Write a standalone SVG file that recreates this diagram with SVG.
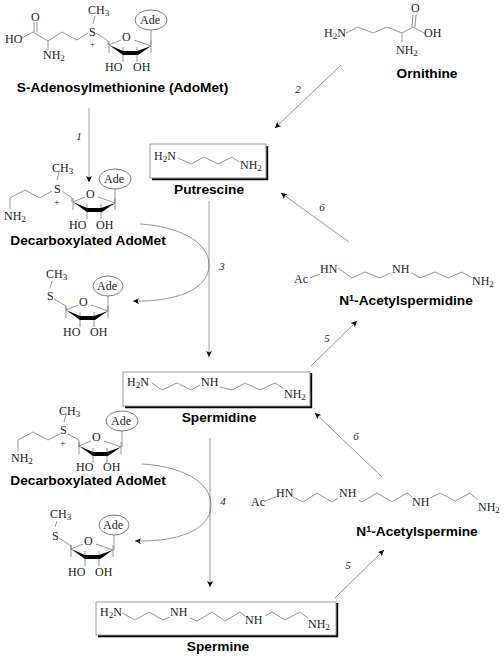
<svg xmlns="http://www.w3.org/2000/svg" xmlns:xlink="http://www.w3.org/1999/xlink" width="504" height="666" viewBox="0 0 504 666">
<style>
text{font-family:"Liberation Serif","Times New Roman",serif;font-size:12px;fill:#222}
.n{font-family:"Liberation Sans",Arial,sans-serif;font-weight:bold;font-size:13.7px;fill:#000;text-anchor:middle}
.l{font-style:italic;font-size:11px;text-anchor:middle}
.b{fill:none;stroke:#666;stroke-width:.7}
.c{fill:none;stroke:#666;stroke-width:.7}
.g{fill:none;stroke:#aaa;stroke-width:1.1}
.e{fill:#fff;stroke:#444;stroke-width:.7}
.x{fill:#fff;stroke:#999;stroke-width:1}
.s{fill:none;stroke:#000;stroke-width:2.4}
.u{font-size:9px}
.p{font-size:10px}
</style>
<defs>
<marker id="a" markerUnits="userSpaceOnUse" markerWidth="8" markerHeight="8" refX="6" refY="3" orient="auto"><path d="M0 0L6 3L0 6L1.500 3Z" fill="#000"/></marker>
<g id="ring">
<path class="b" d="M0 0L12 -5M25 -5L42 1M0 -4V8M42 -4V8M14 2V17M28 2V17"/>
<path d="M0 0L14 6H28L42 1L29 10H14Z" fill="#000"/>
</g>
</defs>
<g id="connectors">
<path class="g" d="M89 108V182" marker-end="url(#a)"/>
<path class="c" d="M341 65L275 128" marker-end="url(#a)"/>
<path class="c" d="M349 242L281 193" marker-end="url(#a)"/>
<path class="g" d="M209 201V357" marker-end="url(#a)"/>
<path class="c" d="M140 224C175 226 209 240 209 265C209 290 175 302 133 301" marker-end="url(#a)"/>
<path class="c" d="M311 366L357 321" marker-end="url(#a)"/>
<path class="c" d="M382 477L315 413" marker-end="url(#a)"/>
<path class="c" d="M210 438V587" marker-end="url(#a)"/>
<path class="c" d="M142 464C178 466 211 480 211 505C211 530 178 542 135 541" marker-end="url(#a)"/>
<path class="c" d="M335 598L384 550" marker-end="url(#a)"/>
<text class="l" x="79" y="140">1</text>
<text class="l" x="298" y="93">2</text>
<text class="l" x="222" y="270">3</text>
<text class="l" x="223" y="505">4</text>
<text class="l" x="327" y="342">5</text>
<text class="l" x="348" y="569">5</text>
<text class="l" x="322" y="211">6</text>
<text class="l" x="356" y="440">6</text>
</g>
<g id="adomet">
<path class="b" d="M22 38L33 32L48 41L62 32L77 40L88 33M96 33L108 41V45M34 32V22M37 32V22M48 41V50M93 24L95 16"/>
<use xlink:href="#ring" href="#ring" x="109" y="45"/>
<path class="b" d="M151 30V45"/>
<ellipse class="e" cx="151" cy="20" rx="16" ry="10"/>
<text x="5" y="43">HO</text><text x="31" y="21">O</text>
<text x="43" y="59">NH<tspan class="u" dy="2">2</tspan></text>
<text x="88" y="14">CH<tspan class="u" dy="2">3</tspan></text>
<text x="89" y="36">S</text><text x="90" y="47" class="u">+</text>
<text x="122" y="41">O</text><text x="105" y="71">HO</text><text x="133" y="71">OH</text>
<text x="140" y="24">Ade</text>
<text class="n" x="122.500" y="92">S-Adenosylmethionine (AdoMet)</text>
</g>
<g id="ornithine">
<path class="b" d="M346 33L358 27L373 33L387 27L402 33L413 27L424 33M412 27L413 15M415 27L416 15M402 33V42"/>
<text x="324" y="37">H<tspan class="u" dy="2">2</tspan><tspan dy="-2">N</tspan></text>
<text x="411" y="12">O</text><text x="424" y="37">OH</text>
<text x="396" y="54">NH<tspan class="u" dy="2">2</tspan></text>
<text class="n" x="427" y="78">Ornithine</text>
</g>
<g id="putrescine">
<path class="s" d="M152 179H267V146"/>
<rect class="x" x="150" y="144" width="116" height="34"/>
<path class="b" d="M178 158L191 164L204 157L218 164L232 157L239 162"/>
<text x="154" y="160">H<tspan class="u" dy="2">2</tspan><tspan dy="-2">N</tspan></text>
<text x="240" y="169">NH<tspan class="u" dy="2">2</tspan></text>
<text class="n" x="209" y="194">Putrescine</text>
</g>
<g id="decarboxy1">
<path class="b" d="M10 209V198L25 190L40 198L52 191M62 191L72 198V202M57 180L59 172"/>
<use xlink:href="#ring" href="#ring" x="73" y="202"/>
<path class="b" d="M115 189V203"/>
<ellipse class="e" cx="115" cy="179" rx="16" ry="10"/>
<text x="52" y="172">CH<tspan class="u" dy="2">3</tspan></text>
<text x="54" y="193">S</text><text class="p" x="54" y="206">+</text>
<text x="4" y="220">NH<tspan class="u" dy="2">2</tspan></text>
<text x="86" y="198">O</text><text x="69" y="229">HO</text><text x="96" y="229">OH</text>
<text x="104" y="183">Ade</text>
<text class="n" x="88" y="245">Decarboxylated AdoMet</text>
</g>
<g id="mta1">
<path class="b" d="M52 281L50 288M54 299L66 306V310"/>
<use xlink:href="#ring" href="#ring" x="66" y="310"/>
<path class="b" d="M108 296V311"/>
<ellipse class="e" cx="108" cy="286" rx="15" ry="10"/>
<text x="46" y="278">CH<tspan class="u" dy="2">3</tspan></text>
<text x="47" y="300">S</text>
<text x="79" y="306">O</text><text x="63" y="336">HO</text><text x="90" y="336">OH</text>
<text x="97" y="290">Ade</text>
</g>
<g id="acetylspermidine">
<path class="b" d="M310 278L320 274M338 268L352 278L365 272L380 278L390 273M412 273L420 278L435 272L448 278L462 272L472 278"/>
<text x="294" y="283">Ac</text><text x="320" y="273">HN</text><text x="392" y="273">NH</text>
<text x="472" y="285">NH<tspan class="u" dy="2">2</tspan></text>
<text class="n" x="406" y="305">N<tspan class="u" dy="-4">1</tspan><tspan dy="4">-Acetylspermidine</tspan></text>
</g>
<g id="spermidine">
<path class="s" d="M125 407H311V373"/>
<rect class="x" x="123" y="372" width="187" height="34"/>
<path class="b" d="M152 383L162 390L177 383L191 390L200 385M220 387L232 390L245 383L260 390L275 383L283 388"/>
<text x="127" y="386">H<tspan class="u" dy="2">2</tspan><tspan dy="-2">N</tspan></text>
<text x="201" y="386">NH</text>
<text x="284" y="398">NH<tspan class="u" dy="2">2</tspan></text>
<text class="n" x="219" y="422">Spermidine</text>
</g>
<g id="decarboxy2">
<path class="b" d="M18 451V440L33 432L48 440L60 434M68 434L79 440V447M64 422L66 415"/>
<use xlink:href="#ring" href="#ring" x="79" y="446"/>
<path class="b" d="M122 431V447"/>
<ellipse class="e" cx="122" cy="421" rx="16" ry="10"/>
<text x="59" y="415">CH<tspan class="u" dy="2">3</tspan></text>
<text x="60" y="434">S</text><text class="p" x="60" y="447">+</text>
<text x="11" y="462">NH<tspan class="u" dy="2">2</tspan></text>
<text x="92" y="441">O</text><text x="76" y="471">HO</text><text x="103" y="471">OH</text>
<text x="111" y="425">Ade</text>
<text class="n" x="88" y="485">Decarboxylated AdoMet</text>
</g>
<g id="mta2">
<path class="b" d="M57 521L55 527M59 538L71 546V550"/>
<use xlink:href="#ring" href="#ring" x="71" y="549"/>
<path class="b" d="M114 535V550"/>
<ellipse class="e" cx="114" cy="525" rx="15" ry="10"/>
<text x="50" y="518">CH<tspan class="u" dy="2">3</tspan></text>
<text x="52" y="540">S</text>
<text x="84" y="545">O</text><text x="68" y="576">HO</text><text x="95" y="576">OH</text>
<text x="103" y="529">Ade</text>
</g>
<g id="acetylspermine">
<path class="b" d="M265 501L276 497M293 497L303 502L317 493L332 502L338 498M358 500L362 502L377 493L392 502L407 493L412 497M430 498L440 493L455 501L470 493L478 500"/>
<text x="251" y="506">Ac</text><text x="276" y="497">HN</text><text x="339" y="497">NH</text><text x="412" y="506">NH</text>
<text x="478" y="511">NH<tspan class="u" dy="2">2</tspan></text>
<text class="n" x="417" y="536">N<tspan class="u" dy="-4">1</tspan><tspan dy="4">-Acetylspermine</tspan></text>
</g>
<g id="spermine">
<path class="s" d="M98 636H337V603"/>
<rect class="x" x="96" y="602" width="240" height="33"/>
<path class="b" d="M122 613L135 620L149 612L163 620L170 617M190 618L197 621L212 612L225 621L240 612L245 616M265 616L272 612L285 620L300 612L308 618"/>
<text x="100" y="616">H<tspan class="u" dy="2">2</tspan><tspan dy="-2">N</tspan></text>
<text x="170" y="616">NH</text><text x="245" y="624">NH</text>
<text x="308" y="628">NH<tspan class="u" dy="2">2</tspan></text>
<text class="n" x="218" y="651">Spermine</text>
</g>
</svg>
